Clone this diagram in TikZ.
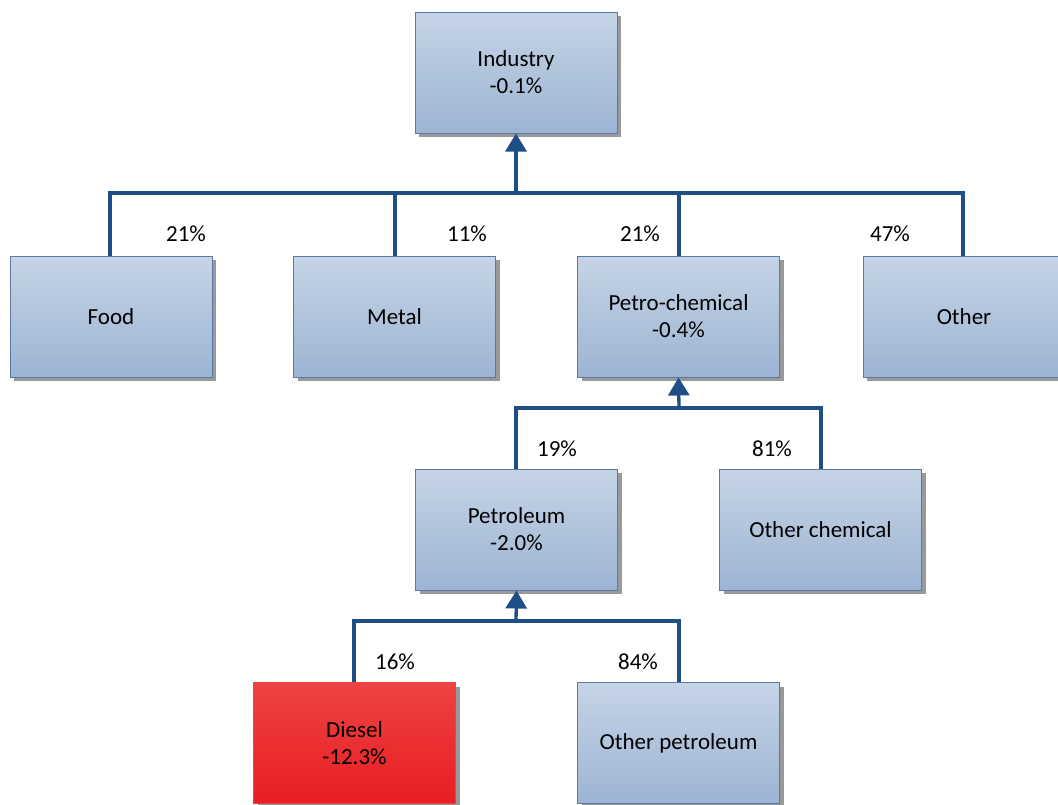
\documentclass[tikz,border=0pt]{standalone}
\usepackage{fontspec}
\setmainfont{Carlito}
\usetikzlibrary{arrows.meta,shadows}
\definecolor{linec}{HTML}{1F4E86}
\definecolor{boxtop}{HTML}{C6D4E6}
\definecolor{boxbot}{HTML}{9CB4D3}
\definecolor{boxdraw}{HTML}{5A78A8}
\definecolor{redtop}{HTML}{EE4242}
\definecolor{redbot}{HTML}{E81E22}
\tikzset{
  box/.style={draw=boxdraw, line width=1pt, top color=boxtop, bottom color=boxbot,
    minimum width=202pt, minimum height=121pt, inner sep=0pt, align=center,
    font=\fontsize{23}{27}\selectfont,
    drop shadow={shadow xshift=4pt, shadow yshift=-4pt, fill=black!40, opacity=1}},
  redbox/.style={box, draw=redtop, top color=redtop, bottom color=redbot},
  conn/.style={draw=linec, line width=3.3pt},
  arr/.style={conn, -{Triangle[length=18pt,width=21pt]}},
  pct/.style={font=\fontsize{23}{25}\selectfont, inner sep=0pt}
}
\begin{document}
\begin{tikzpicture}[x=1pt,y=-1pt]
\useasboundingbox (0,0) rectangle (1058,804);
\node[box] (ind) at (516,72.5) {Industry\\-0.1\%};
\node[box] (food) at (111,316.5) {Food};
\node[box] (metal) at (394.5,316.5) {Metal};
\node[box] (petchem) at (678.5,316.5) {Petro-chemical\\-0.4\%};
\node[box] (other) at (964,316.5) {Other};
\node[box] (petrol) at (516.5,529.5) {Petroleum\\-2.0\%};
\node[box] (ochem) at (820.5,529.5) {Other chemical};
\node[redbox] (diesel) at (354.5,743) {Diesel\\-12.3\%};
\node[box] (opet) at (678.5,743) {Other petroleum};

\coordinate (b1) at (516,193);
\draw[conn] (food.north -| 110,0) |- (b1);
\draw[conn] (other.north -| 963,0) |- (b1);
\draw[conn] (metal.north -| 395,0) -- (395,193);
\draw[conn] (petchem.north -| 679,0) -- (679,193);
\draw[arr] (b1) -- (ind.south);

\coordinate (b2) at (679,408);
\draw[conn] (petrol.north -| 516,0) |- (b2);
\draw[conn] (ochem.north -| 821,0) |- (b2);
\draw[arr] (b2) -- (petchem.south);

\coordinate (b3) at (516,621);
\draw[conn] (diesel.north -| 354,0) |- (b3);
\draw[conn] (opet.north -| 679,0) |- (b3);
\draw[arr] (b3) -- (petrol.south);

\node[pct] (p1) at (186,234) {21\%};
\node[pct] (p2) at (467,234) {11\%};
\node[pct] (p3) at (640,234) {21\%};
\node[pct] (p4) at (890,234) {47\%};
\node[pct] (p5) at (557,449) {19\%};
\node[pct] (p6) at (772,449) {81\%};
\node[pct] (p7) at (395,662) {16\%};
\node[pct] (p8) at (638,662) {84\%};
\end{tikzpicture}
\end{document}
